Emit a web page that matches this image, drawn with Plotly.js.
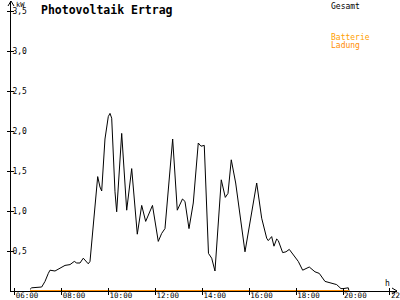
<!DOCTYPE html>
<html><head><meta charset="utf-8">
<script src="https://cdn.plot.ly/plotly-3.0.1.min.js"></script>
<style>html,body{margin:0;padding:0;background:#fff}#c{width:400px;height:300px}</style>
</head><body><div id="c"></div>
<script>
// time of day in decimal hours
const hours = [6.648,6.721,7.147,7.288,7.429,7.501,7.714,7.855,8.0,8.141,8.354,8.537,8.640,8.780,8.921,9.134,9.207,9.348,9.493,9.535,9.633,9.706,9.846,9.987,10.060,10.132,10.273,10.345,10.559,10.772,10.985,11.224,11.412,11.582,11.872,12.119,12.264,12.405,12.733,12.930,13.151,13.258,13.429,13.612,13.825,13.940,14.081,14.260,14.397,14.537,14.806,14.977,15.092,15.232,15.420,15.817,16.316,16.529,16.742,16.810,16.955,17.053,17.168,17.237,17.424,17.565,17.706,17.876,18.090,18.277,18.559,18.802,18.985,19.228,19.514,19.727,19.910,20.009,20.222,20.252];
// Gesamt (kW)
const gesamt = [0.02,0.04,0.05,0.12,0.22,0.26,0.25,0.27,0.29,0.32,0.33,0.37,0.35,0.35,0.41,0.34,0.37,0.83,1.35,1.43,1.30,1.25,1.90,2.18,2.22,2.16,1.24,0.99,1.97,1.01,1.53,0.71,1.07,0.87,1.07,0.62,0.72,0.78,1.90,1.01,1.15,1.12,0.78,1.10,1.85,1.81,1.82,0.47,0.41,0.25,1.39,1.17,1.22,1.64,1.35,0.49,1.35,0.91,0.66,0.63,0.68,0.56,0.65,0.63,0.48,0.49,0.52,0.46,0.37,0.26,0.30,0.24,0.22,0.12,0.10,0.08,0.03,0.03,0.04,0.0];
// Batterie Ladung (kW)
const ladung = hours.map(() => 0);
const xTickVals = [6,8,10,12,14,16,18,20,22];
const xTickText = ["06:00","08:00","10:00","12:00","14:00","16:00","18:00","20:00","22:00"];
const yTickVals = [0.5,1.0,1.5,2.0,2.5,3.0,3.5];

const F = "DejaVu Sans Mono";
const ORANGE = "#ff8c00";
const xr = [5.838, 22.30], yr = [0, 3.625];

const traces = [
  {x: hours, y: gesamt, type: "scatter", mode: "lines", line: {color: "#000", width: 1}, xaxis: "x", yaxis: "y", hoverinfo: "skip"},
  {x: hours, y: ladung, type: "scatter", mode: "lines", line: {color: ORANGE, width: 2}, xaxis: "x2", yaxis: "y2", hoverinfo: "skip"}
];

function px(x){return (x-11)/386;}
function py(y){return (290-y)/290;}

const layout = {
  width: 400, height: 300,
  margin: {l: 11, r: 3, t: 1, b: 9, pad: 0},
  paper_bgcolor: "#fff", plot_bgcolor: "#fff",
  showlegend: false,
  separators: ",.",
  font: {family: F, size: 8, color: "#000"},
  xaxis: {range: xr, tickmode: "array", tickvals: xTickVals, ticktext: xTickText,
    showgrid: false, zeroline: false, showline: true, linecolor: "#000", linewidth: 1,
    ticks: "inside", ticklen: 3, tickcolor: "#000", tickwidth: 1,
    ticklabelposition: "outside right", ticklabeloverflow: "allow", ticklabelstandoff: -3,
    tickfont: {family: F, size: 7.5, color: "#000"}, fixedrange: true},
  yaxis: {range: yr, tickmode: "array", tickvals: yTickVals, tickformat: ".1f",
    showgrid: false, zeroline: false, showline: true, linecolor: "#000", linewidth: 1,
    ticks: "outside", ticklen: 3, tickcolor: "#000", tickwidth: 1,
    ticklabelposition: "inside", ticklabeloverflow: "allow",
    tickfont: {family: F, size: 8, color: "#000"}, fixedrange: true},
  xaxis2: {range: xr, overlaying: "x", anchor: "y2", tickmode: "array", tickvals: xTickVals,
    showticklabels: false, showgrid: false, zeroline: false, showline: false,
    ticks: "outside", ticklen: 3, tickcolor: "#000", side: "bottom", fixedrange: true},
  yaxis2: {range: yr, overlaying: "y", anchor: "x2", tickmode: "array", tickvals: yTickVals,
    showticklabels: false, showgrid: false, zeroline: false, showline: false,
    ticks: "inside", ticklen: 3, tickcolor: "#000", side: "left", fixedrange: true},
  annotations: [
    {text: "<b>Photovoltaik Ertrag</b>", xref: "paper", yref: "paper", x: px(39), y: py(0), xanchor: "left", yanchor: "top", showarrow: false, font: {family: F, size: 11.5, color: "#000"}},
    {text: "kW", xref: "paper", yref: "paper", x: px(14), y: py(-2), xanchor: "left", yanchor: "top", showarrow: false, font: {family: F, size: 7, color: "#000"}},
    {text: "Gesamt", xref: "paper", yref: "paper", x: px(329), y: py(-1), xanchor: "left", yanchor: "top", showarrow: false, font: {family: F, size: 8, color: "#000"}},
    {text: "Batterie", xref: "paper", yref: "paper", x: px(329), y: py(30), xanchor: "left", yanchor: "top", showarrow: false, font: {family: F, size: 8, color: "#ffa000"}},
    {text: "Ladung", xref: "paper", yref: "paper", x: px(329), y: py(38), xanchor: "left", yanchor: "top", showarrow: false, font: {family: F, size: 8, color: ORANGE}},
    {text: "h", xref: "paper", yref: "paper", x: px(383), y: py(276), xanchor: "left", yanchor: "top", showarrow: false, font: {family: F, size: 8, color: "#000"}}
  ],
  shapes: [
    {type: "path", xref: "paper", yref: "paper", path: `M ${px(8)} ${py(5)} L ${px(11)} ${py(0)} L ${px(14)} ${py(5)}`, line: {color: "#000", width: 1}},
    {type: "path", xref: "paper", yref: "paper", path: `M ${px(392)} ${py(287)} L ${px(397)} ${py(290)} L ${px(392)} ${py(293)}`, line: {color: "#000", width: 1}}
  ]
};

Plotly.newPlot("c", traces, layout, {staticPlot: true, displayModeBar: false});
</script>
</body></html>
